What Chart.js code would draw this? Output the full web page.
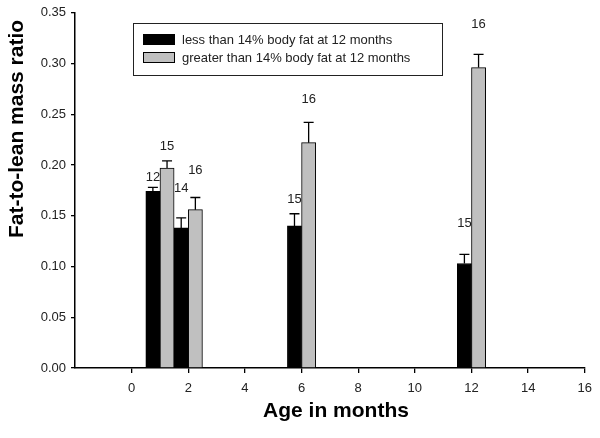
<!DOCTYPE html>
<html>
<head>
<meta charset="utf-8">
<script src="https://cdn.jsdelivr.net/npm/chart.js@4.4.1/dist/chart.umd.min.js"></script>
<style>
  html, body { margin: 0; padding: 0; background: #fff; }
  #wrap { width: 600px; height: 438px; }
</style>
</head>
<body>
<div id="wrap"><canvas id="chart" width="600" height="438"></canvas></div>
<script>
/* ---------- data ---------- */
const months = [1, 2, 6, 12];
const lowFatLabel = "less than 14% body fat at 12 months";
const highFatLabel = "greater than 14% body fat at 12 months";
const lowFat = [0.174, 0.138, 0.140, 0.103];
const lowFatErr = [0.004, 0.010, 0.012, 0.009];
const lowFatN = [12, 14, 15, 15];
const highFat = [0.197, 0.156, 0.222, 0.296];
const highFatErr = [0.007, 0.012, 0.020, 0.013];
const highFatN = [15, 16, 16, 16];
const yTicks = [0, 0.05, 0.10, 0.15, 0.20, 0.25, 0.30, 0.35];
const xTicks = [0, 2, 4, 6, 8, 10, 12, 14, 16];

/* ---------- layout (px) ---------- */
const FONT = "Arial, 'Liberation Sans', sans-serif";
const lowLift = [10, 29, 14, 31];   // n label distance above cap
const highLift = [15, 27, 23, 30];

function pts(vals) {
  return months.map((m, i) => ({ x: m, y: vals[i] }));
}

/* error bars + n labels */
const errorBars = {
  id: "errorBars",
  afterDatasetsDraw(chart) {
    const ctx = chart.ctx;
    const ys = chart.scales.y;
    chart.data.datasets.forEach((ds, i) => {
      const meta = chart.getDatasetMeta(i);
      meta.data.forEach((bar, j) => {
        const top = ys.getPixelForValue(ds.data[j].y + ds.errors[j]);
        ctx.save();
        ctx.strokeStyle = "#000";
        ctx.lineWidth = 1.3;
        ctx.beginPath();
        ctx.moveTo(bar.x, bar.y);
        ctx.lineTo(bar.x, top);
        ctx.moveTo(bar.x - 5, top);
        ctx.lineTo(bar.x + 5, top);
        ctx.stroke();
        ctx.fillStyle = "#222";
        ctx.font = "13px " + FONT;
        ctx.textAlign = "center";
        ctx.textBaseline = "middle";
        ctx.fillText(String(ds.counts[j]), bar.x, top - ds.lift[j]);
        ctx.restore();
      });
    });
  }
};

/* legend box inside plot + axis titles */
const decorations = {
  id: "decorations",
  afterDraw(chart) {
    const ctx = chart.ctx;
    ctx.save();
    // legend
    ctx.strokeStyle = "#222";
    ctx.lineWidth = 1;
    ctx.strokeRect(133.5, 23.5, 309, 52);
    ctx.font = "13px " + FONT;
    ctx.textBaseline = "middle";
    ctx.textAlign = "left";
    chart.data.datasets.forEach((ds, i) => {
      const y = 34 + i * 18;
      ctx.fillStyle = ds.backgroundColor;
      ctx.fillRect(143, y, 31, 11);
      ctx.strokeStyle = "#000";
      ctx.strokeRect(143.5, y + 0.5, 31, 10);
      ctx.fillStyle = "#222";
      ctx.fillText(ds.label, 182, y + 6);
    });
    // axis titles
    ctx.fillStyle = "#000";
    ctx.font = "bold 21px " + FONT;
    ctx.textAlign = "center";
    ctx.fillText("Age in months", 336, 411);
    ctx.translate(17, 129);
    ctx.rotate(-Math.PI / 2);
    ctx.fillText("Fat-to-lean mass ratio", 0, 0);
    ctx.restore();
  }
};

new Chart(document.getElementById("chart"), {
  type: "bar",
  data: {
    datasets: [
      {
        label: lowFatLabel,
        data: pts(lowFat),
        errors: lowFatErr,
        counts: lowFatN,
        lift: lowLift,
        backgroundColor: "#000000",
        borderColor: "#000000",
        borderWidth: 1,
        barPercentage: 1,
        categoryPercentage: 1
      },
      {
        label: highFatLabel,
        data: pts(highFat),
        errors: highFatErr,
        counts: highFatN,
        lift: highLift,
        backgroundColor: "#c0c0c0",
        borderColor: "#000000",
        borderWidth: 1,
        barPercentage: 1,
        categoryPercentage: 1
      }
    ]
  },
  options: {
    responsive: false,
    animation: false,
    layout: { padding: { top: 11, right: 12, left: 0, bottom: 0 } },
    plugins: {
      legend: { display: false },
      tooltip: { enabled: false }
    },
    scales: {
      x: {
        type: "linear",
        min: -2,
        max: 16,
        offset: false,
        afterBuildTicks(scale) {
          scale.ticks = xTicks.map(v => ({ value: v }));
        },
        afterFit(scale) { scale.height = 70; },
        ticks: { color: "#222", font: { family: FONT, size: 13 }, padding: 8, maxRotation: 0 },
        grid: { offset: false, drawOnChartArea: false, drawTicks: true, tickLength: 5, color: "#000", lineWidth: 1.3 },
        border: { display: true, color: "#000", width: 1.5 }
      },
      y: {
        min: 0,
        max: 0.35,
        afterBuildTicks(scale) {
          scale.ticks = yTicks.map(v => ({ value: v }));
        },
        afterFit(scale) { scale.width = 75; },
        ticks: {
          color: "#222",
          font: { family: FONT, size: 13 },
          padding: 5,
          callback: v => Number(v).toFixed(2)
        },
        grid: { drawOnChartArea: false, drawTicks: true, tickLength: 4, color: "#000", lineWidth: 1.3 },
        border: { display: true, color: "#000", width: 1.5 }
      }
    }
  },
  plugins: [errorBars, decorations]
});
</script>
</body>
</html>
